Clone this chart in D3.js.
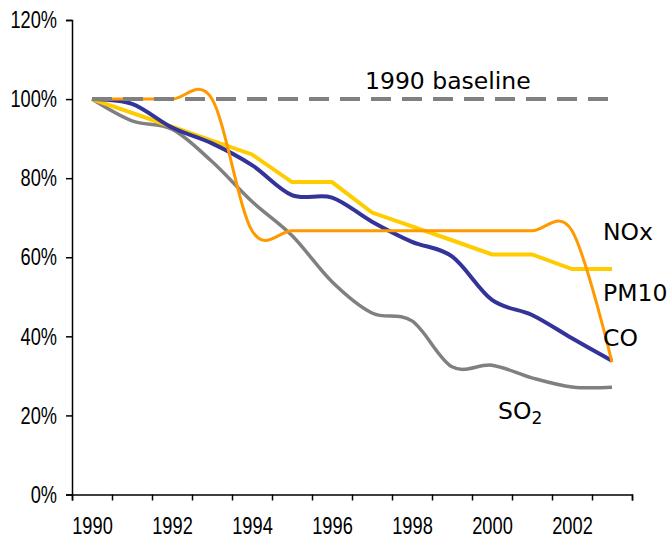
<!DOCTYPE html>
<html>
<head>
<meta charset="utf-8">
<script src="https://cdn.jsdelivr.net/npm/d3@7"></script>
<style>
  body { margin: 0; background: #fff; }
  .tick text { font-family: "Liberation Sans", Arial, sans-serif; font-size: 24px; fill: #000; }
  .lbl { font-family: "DejaVu Sans", Verdana, sans-serif; font-size: 23.5px; fill: #000; }
</style>
</head>
<body>
<script>
// data (share of 1990 level)
var years = [1990, 1991, 1992, 1993, 1994, 1995, 1996, 1997, 1998, 1999, 2000, 2001, 2002, 2003];
var labelYears = [1990, 1992, 1994, 1996, 1998, 2000, 2002];
var nox  = [1.00, 1.00, 1.00, 1.00, 0.667, 0.667, 0.667, 0.667, 0.667, 0.667, 0.667, 0.667, 0.667, 0.335];
var pm10 = [1.00, 0.965, 0.93, 0.895, 0.86, 0.79, 0.79, 0.713, 0.678, 0.643, 0.607, 0.607, 0.57, 0.57];
var co   = [1.00, 0.988, 0.928, 0.888, 0.833, 0.757, 0.751, 0.69, 0.639, 0.602, 0.492, 0.454, 0.395, 0.338];
var so2  = [1.00, 0.945, 0.924, 0.842, 0.741, 0.655, 0.538, 0.459, 0.439, 0.323, 0.327, 0.295, 0.272, 0.271];
var baseline = [1.00, 1.00, 1.00, 1.00, 1.00, 1.00, 1.00, 1.00, 1.00, 1.00, 1.00, 1.00, 1.00, 1.00];
var yTicks = [0, 0.2, 0.4, 0.6, 0.8, 1.0, 1.2];

var width = 672, height = 543;
var svg = d3.select("body").append("svg").attr("width", width).attr("height", height);

// categories sit between the tick marks, like the spreadsheet original
var x = d3.scaleLinear().domain([1989.5, 2003.5]).range([72, 632]);
var y = d3.scaleLinear().domain([0, 1.2]).range([494.5, 20]);

var bounds = [];
for (var i = 0; i <= years.length; i++) bounds.push(years[0] - 0.5 + i);

// axes
var yAxis = svg.append("g").attr("transform", "translate(72,0)")
    .call(d3.axisLeft(y).tickValues(yTicks).tickFormat(d3.format(".0%")).tickSize(6).tickPadding(9));
var xAxis = svg.append("g").attr("transform", "translate(0,494.5)")
    .call(d3.axisBottom(x).tickValues(bounds).tickFormat("").tickSize(6));
var xLabels = svg.append("g").attr("transform", "translate(0,494.5)")
    .call(d3.axisBottom(x).tickValues(labelYears).tickFormat(d3.format("d")).tickSize(0).tickPadding(22));
xLabels.select(".domain").remove();
svg.selectAll(".domain, .tick line").attr("stroke", "#000").attr("stroke-width", 1.5);

// narrow look for the tick labels (no Arial Narrow here)
yAxis.selectAll(".tick text").attr("x", 0).attr("transform", "translate(-15,0) scale(0.76,1)");
xLabels.selectAll(".tick text").attr("transform", "scale(0.76,1)");

function lineOf(vals, curve) {
    return d3.line()
        .x(function(d, i) { return x(years[i]); })
        .y(function(d) { return y(d); })
        .curve(curve)(vals);
}

var smooth = d3.curveCardinal.tension(0);

svg.append("path").attr("fill", "none").attr("stroke", "#808080").attr("stroke-width", 3.5)
    .attr("d", lineOf(so2, smooth));
svg.append("path").attr("fill", "none").attr("stroke", "#FFCC00").attr("stroke-width", 4)
    .attr("d", lineOf(pm10, d3.curveLinear));
svg.append("path").attr("fill", "none").attr("stroke", "#333399").attr("stroke-width", 4)
    .attr("d", lineOf(co, smooth));
svg.append("path").attr("fill", "none").attr("stroke", "#FF9900").attr("stroke-width", 3)
    .attr("d", lineOf(nox, smooth));
svg.append("path").attr("fill", "none").attr("stroke", "#808080").attr("stroke-width", 4)
    .attr("stroke-dasharray", "20,11")
    .attr("d", lineOf(baseline, d3.curveLinear));

// labels
svg.append("text").attr("class", "lbl").attr("x", 365).attr("y", 89).text("1990 baseline");
svg.append("text").attr("class", "lbl").attr("x", 603).attr("y", 240).text("NOx");
svg.append("text").attr("class", "lbl").attr("x", 603).attr("y", 300.5).text("PM10");
svg.append("text").attr("class", "lbl").attr("x", 603).attr("y", 345.5).text("CO");
var s = svg.append("text").attr("class", "lbl").attr("x", 498).attr("y", 419).text("SO");
s.append("tspan").attr("dy", 5).style("font-size", "17px").text("2");
</script>
</body>
</html>
